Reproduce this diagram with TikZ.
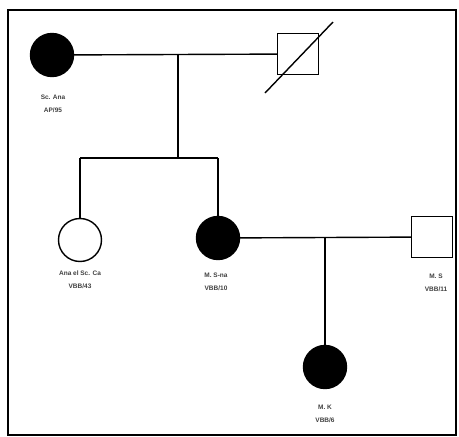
\documentclass[tikz,border=0pt]{standalone}
\usepackage{fontspec}
\setmainfont{Liberation Sans}
\begin{document}
\begin{tikzpicture}[x=1pt,y=-1pt,
  line width=1.4pt,
  affected/.style={circle,draw,fill=black,minimum size=43pt,inner sep=0pt},
  female/.style={circle,draw,fill=white,minimum size=43pt,inner sep=0pt},
  male/.style={rectangle,draw,fill=white,minimum size=41pt,inner sep=0pt},
  lbl/.style={font=\fontsize{6.5}{13}\selectfont\bfseries,align=center,text=black!75,inner sep=0pt}]
\useasboundingbox (0,0) rectangle (459,437);
\draw[line width=1.2pt] (8,10) rectangle (456,435);
% generation I
\node[affected] (gm) at (52,55) {};
\node[male] (gf) at (298,54) {};
\draw (gm) -- (gf);
\coordinate (gline) at (265,93);
\coordinate (gline2) at (333,22);
\draw (gline) -- (gline2);
\coordinate (m1) at (178,55);
\coordinate (s1) at (178,158);
\coordinate (sl) at (80,158);
\coordinate (sr) at (218,158);
\draw (m1) -- (s1);
\draw (sl) -- (sr);
% generation II
\node[female] (d1) at (80,240) {};
\node[affected] (d2) at (218,238) {};
\node[male] (h) at (432,237) {};
\draw (sl) -- (d1);
\draw (sr) -- (d2);
\draw (d2) -- (h);
% generation III
\coordinate (m2) at (325,238);
\node[affected] (c) at (325,367) {};
\draw (m2) -- (c);
% labels
\node[lbl] (l1) at (53,104) {Sc. Ana\\AP/95};
\node[lbl] (l2) at (80,280) {Ana el Sc. Ca\\VBB/43};
\node[lbl] (l3) at (216,282) {M. S-na\\VBB/10};
\node[lbl] (l4) at (436,283) {M. S\\VBB/11};
\node[lbl] (l5) at (325,414) {M. K\\VBB/6};
\end{tikzpicture}
\end{document}
